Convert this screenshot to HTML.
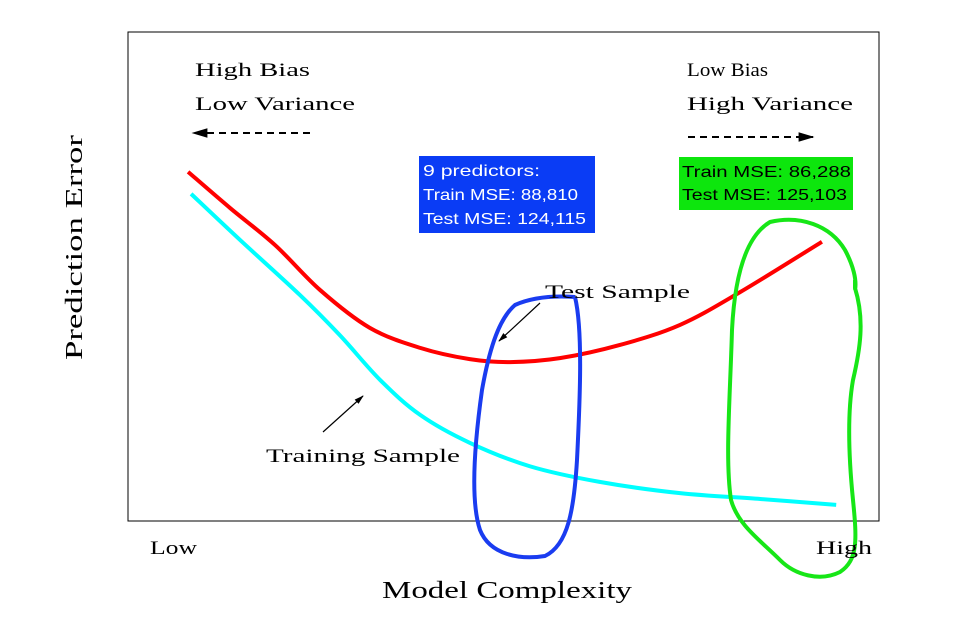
<!DOCTYPE html>
<html><head><meta charset="utf-8"><style>
html,body{margin:0;padding:0;background:#fff;}
svg{display:block;}
text{font-family:"Liberation Serif",serif;}
.sans{font-family:"Liberation Sans",sans-serif;}
</style></head><body>
<svg width="979" height="620" viewBox="0 0 979 620">
<defs>
<marker id="ah" viewBox="0 0 10 10" refX="9" refY="5" markerWidth="8" markerHeight="8" orient="auto-start-reverse"><path d="M0,2 L10,5 L0,8 z" fill="#000"/></marker>
</defs>
<rect x="128" y="32" width="751" height="489" fill="none" stroke="#000" stroke-width="1"/>
<g id="series"></g>
<path d="M575,297 C583,330 580,400 577,460 C574,510 568,545 545,556 C520,560 490,555 480,530 C470,500 475,440 482,390 C490,345 500,318 515,305 C535,296 560,296 575,297" fill="none" stroke="#1a3cf0" stroke-width="4"/>
<path d="M855,280 L855,288 C865,320 860,350 853,380 C846,420 850,470 853,500 C857,540 858,560 840,572 C820,582 795,575 780,560 C760,540 738,525 731,500 C725,460 730,400 732,330 C735,270 748,235 770,222 C800,215 830,225 845,250 C853,265 857,280 855,290" fill="none" stroke="#17e617" stroke-width="4"/>
<text x="195" y="76" font-size="19" textLength="115" lengthAdjust="spacingAndGlyphs">High Bias</text>
<text x="195" y="110" font-size="19" textLength="160" lengthAdjust="spacingAndGlyphs">Low Variance</text>
<text x="687" y="76" font-size="19" textLength="81" lengthAdjust="spacingAndGlyphs">Low Bias</text>
<text x="687" y="110" font-size="19" textLength="166" lengthAdjust="spacingAndGlyphs">High Variance</text>
<line x1="310" y1="133" x2="193" y2="133" stroke="#000" stroke-width="2" stroke-dasharray="7,5" marker-end="url(#ah)"/>
<line x1="688" y1="137" x2="813" y2="137" stroke="#000" stroke-width="2" stroke-dasharray="7,5" marker-end="url(#ah)"/>
<rect x="419" y="156" width="176" height="77" fill="#0a3cf5"/>
<text class="sans" x="423" y="176" font-size="16" fill="#fff" textLength="117" lengthAdjust="spacingAndGlyphs">9 predictors:</text>
<text class="sans" x="423" y="200" font-size="16" fill="#fff" textLength="155" lengthAdjust="spacingAndGlyphs">Train MSE:  88,810</text>
<text class="sans" x="423" y="224" font-size="16" fill="#fff" textLength="163" lengthAdjust="spacingAndGlyphs">Test MSE: 124,115</text>
<rect x="679" y="157" width="174" height="53" fill="#0de60d"/>
<text class="sans" x="682" y="177" font-size="16" fill="#000" textLength="169" lengthAdjust="spacingAndGlyphs">Train MSE:  86,288</text>
<text class="sans" x="682" y="200" font-size="16" fill="#000" textLength="165" lengthAdjust="spacingAndGlyphs">Test MSE: 125,103</text>
<text x="545" y="298" font-size="19" textLength="145" lengthAdjust="spacingAndGlyphs">Test Sample</text>
<line x1="540" y1="303" x2="499" y2="341" stroke="#000" stroke-width="1.2" marker-end="url(#ah)"/>
<text x="266" y="462" font-size="19" textLength="194" lengthAdjust="spacingAndGlyphs">Training Sample</text>
<line x1="323" y1="432" x2="363" y2="396" stroke="#000" stroke-width="1.2" marker-end="url(#ah)"/>
<text x="150" y="554" font-size="19" textLength="47" lengthAdjust="spacingAndGlyphs">Low</text>
<text x="816" y="554" font-size="19" textLength="56" lengthAdjust="spacingAndGlyphs">High</text>
<text x="382" y="598" font-size="24" textLength="250" lengthAdjust="spacingAndGlyphs">Model Complexity</text>
<text transform="translate(82,360) rotate(-90)" font-size="24" textLength="225" lengthAdjust="spacingAndGlyphs">Prediction Error</text>
</svg>
<script>
const complexity = [8.0,13.6,19.6,25.6,32.2,38.9,45.5,50.9,57.5,65.5,73.5,81.5,92.4];
const testError = [71.4,64.0,56.4,47.2,39.5,35.4,33.1,32.5,33.3,36.0,40.1,46.8,57.1];
const complexityTrain = [8.4,14.9,22.9,28.2,33.6,38.9,45.5,53.5,62.8,73.5,84.2,94.3];
const trainError = [66.9,57.5,46.2,38.0,28.8,21.7,16.0,11.2,8.0,5.7,4.5,3.3];
function xs(v){return 128 + v/100*751;}
function ys(v){return 521 - v/100*489;}
function smooth(xv,yv){
  const p=xv.map((x,i)=>[xs(x),ys(yv[i])]);
  let d='M'+p[0][0]+','+p[0][1];
  for(let i=0;i<p.length-1;i++){
    const p0=p[Math.max(0,i-1)],p1=p[i],p2=p[i+1],p3=p[Math.min(p.length-1,i+2)];
    const c1=[p1[0]+(p2[0]-p0[0])/6,p1[1]+(p2[1]-p0[1])/6];
    const c2=[p2[0]-(p3[0]-p1[0])/6,p2[1]-(p3[1]-p1[1])/6];
    d+=' C'+c1[0]+','+c1[1]+' '+c2[0]+','+c2[1]+' '+p2[0]+','+p2[1];
  }
  return d;
}
const g=document.getElementById('series');
const ns='http://www.w3.org/2000/svg';
const r=document.createElementNS(ns,'path');
r.setAttribute('d',smooth(complexity,testError));
r.setAttribute('fill','none');r.setAttribute('stroke','#f00');r.setAttribute('stroke-width','4');


g.appendChild(r);
const c=document.createElementNS(ns,'path');
c.setAttribute('d',smooth(complexityTrain,trainError));
c.setAttribute('fill','none');c.setAttribute('stroke','#0ff');c.setAttribute('stroke-width','4');


g.appendChild(c);
</script>
</body></html>
